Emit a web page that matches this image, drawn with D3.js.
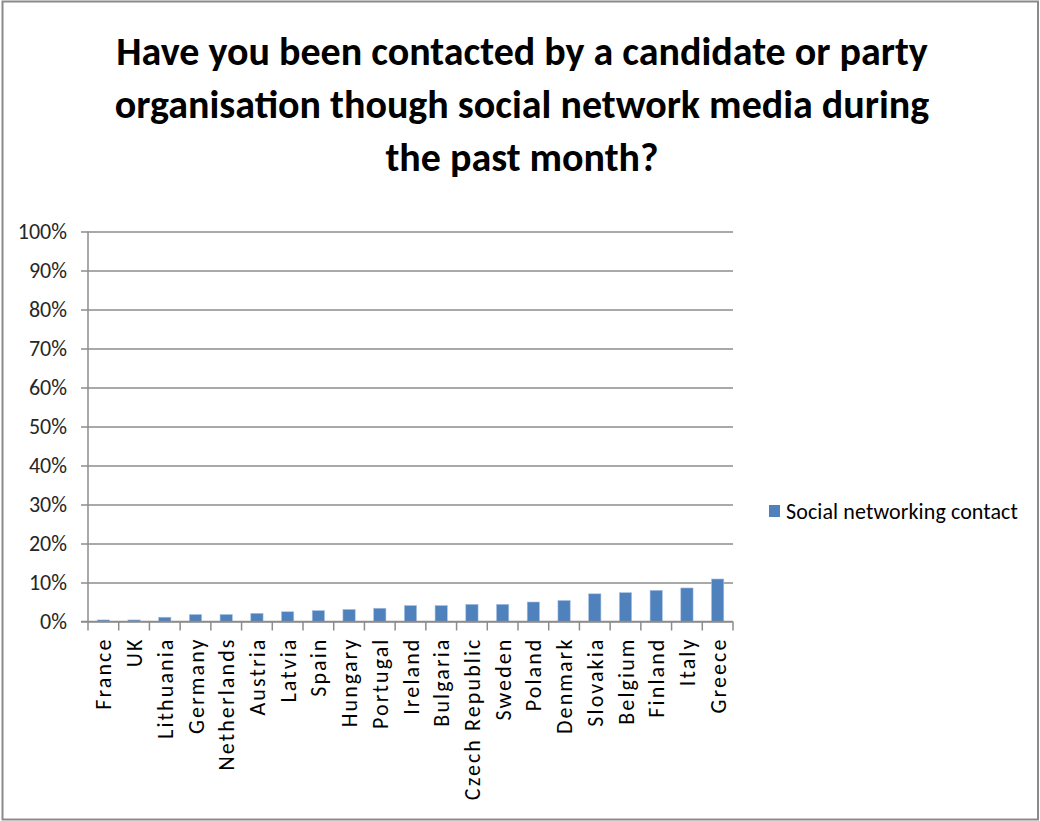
<!DOCTYPE html>
<html>
<head>
<meta charset="utf-8">
<script src="https://cdn.jsdelivr.net/npm/d3@7"></script>
<style>
  html, body { margin: 0; padding: 0; background: #fff; }
  svg { display: block; }
  text { font-family: Carlito, Lato, "Open Sans", sans-serif; }
</style>
</head>
<body>
<svg id="chart" width="1040" height="821"></svg>
<script>
// Share of respondents contacted through social network media, by country
const titleLines = [
  "Have you been contacted by a candidate or party",
  "organisation though social network media during",
  "the past month?"
];
const countries = [
  "France", "UK", "Lithuania", "Germany", "Netherlands", "Austria", "Latvia",
  "Spain", "Hungary", "Portugal", "Ireland", "Bulgaria", "Czech Republic",
  "Sweden", "Poland", "Denmark", "Slovakia", "Belgium", "Finland", "Italy", "Greece"
];
const contactShare = [
  0.4, 0.4, 1.1, 1.8, 1.8, 2.1, 2.5,
  2.8, 3.1, 3.4, 4.1, 4.1, 4.4,
  4.4, 5.0, 5.4, 7.1, 7.4, 8.0, 8.6, 10.9
];
const seriesName = "Social networking contact";
const yTicks = [0, 10, 20, 30, 40, 50, 60, 70, 80, 90, 100];

const svg = d3.select("#chart");

// outer frame
svg.append("rect")
  .attr("x", 2.5).attr("y", 1.5)
  .attr("width", 1035.5).attr("height", 818)
  .attr("fill", "#fff")
  .attr("stroke", "#8a8a8a")
  .attr("stroke-width", 2);

// title
const title = svg.append("text")
  .attr("text-anchor", "middle")
  .attr("font-weight", "bold")
  .attr("font-size", 40)
  .attr("fill", "#000");
titleLines.forEach((line, i) => {
  title.append("tspan")
    .attr("x", 522)
    .attr("y", 65 + i * 53)
    .text(line);
});

const plot = { left: 88, right: 733, top: 231.5, bottom: 621.5 };

const x = d3.scaleBand()
  .domain(countries)
  .range([plot.left, plot.right])
  .paddingInner(0.6)
  .paddingOuter(0.3);

const y = d3.scaleLinear()
  .domain([0, 100])
  .range([plot.bottom, plot.top]);

// horizontal gridlines with short ticks left of the axis
const yAxis = d3.axisLeft(y)
  .tickValues(yTicks)
  .tickFormat(d => d + "%")
  .tickSize(plot.right - plot.left + 7)
  .tickPadding(14);

const gy = svg.append("g")
  .attr("transform", `translate(${plot.right},0)`)
  .call(yAxis);
gy.select(".domain").remove();
gy.selectAll(".tick line")
  .attr("stroke", "#8c8c8c")
  .attr("stroke-width", 1.5);
gy.selectAll(".tick text")
  .attr("font-size", 22)
  .attr("fill", "#262626")
  .attr("font-family", "Carlito, Lato, sans-serif");

// vertical axis line
svg.append("line")
  .attr("x1", plot.left).attr("x2", plot.left)
  .attr("y1", plot.top).attr("y2", plot.bottom)
  .attr("stroke", "#8c8c8c")
  .attr("stroke-width", 1.5);

// bars
svg.append("g")
  .selectAll("rect")
  .data(countries.map((c, i) => ({ c, v: contactShare[i] })))
  .join("rect")
  .attr("x", d => x(d.c))
  .attr("y", d => y(d.v))
  .attr("width", x.bandwidth())
  .attr("height", d => y(0) - y(d.v))
  .attr("fill", "#4f81bd")
  .attr("stroke", "#a9c3e3")
  .attr("stroke-width", 0.6);

// category axis: baseline, ticks between categories, rotated labels
const boundaries = d3.range(countries.length + 1)
  .map(i => plot.left + i * (plot.right - plot.left) / countries.length);

const gx = svg.append("g");
gx.append("line")
  .attr("x1", plot.left - 7).attr("x2", plot.right)
  .attr("y1", plot.bottom).attr("y2", plot.bottom)
  .attr("stroke", "#8c8c8c")
  .attr("stroke-width", 1.5);
gx.selectAll("line.tick")
  .data(boundaries)
  .join("line")
  .attr("class", "tick")
  .attr("x1", d => d).attr("x2", d => d)
  .attr("y1", plot.bottom).attr("y2", plot.bottom + 9)
  .attr("stroke", "#8c8c8c")
  .attr("stroke-width", 1.5);

gx.selectAll("text")
  .data(countries)
  .join("text")
  .attr("transform", d => `translate(${x(d) + x.bandwidth() / 2 + 8},${plot.bottom + 16}) rotate(-90)`)
  .attr("text-anchor", "end")
  .attr("font-size", 22)
  .attr("letter-spacing", 2.1)
  .attr("fill", "#000")
  .text(d => d);

// legend
const legend = svg.append("g").attr("transform", "translate(769,505)");
legend.append("rect")
  .attr("width", 11).attr("height", 12)
  .attr("fill", "#4f81bd");
legend.append("text")
  .attr("x", 17).attr("y", 14)
  .attr("font-size", 22)
  .attr("letter-spacing", 0.1)
  .attr("fill", "#000")
  .text(seriesName);
</script>
</body>
</html>
